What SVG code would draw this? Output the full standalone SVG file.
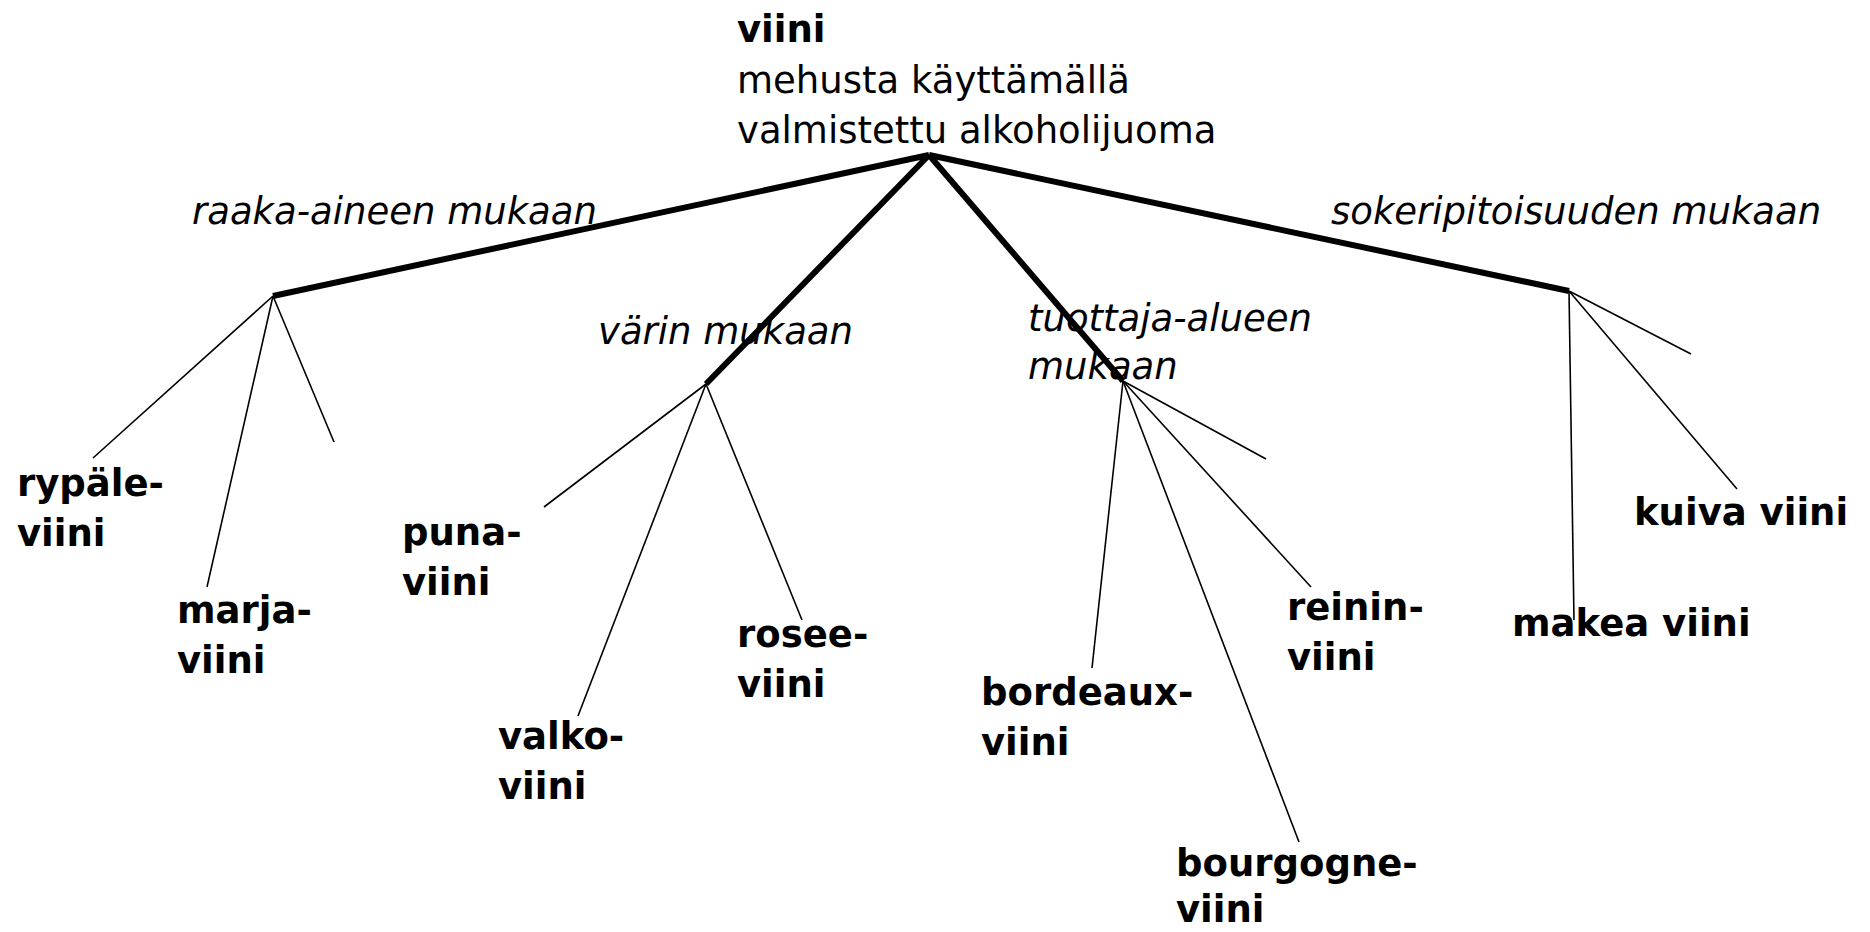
<svg xmlns="http://www.w3.org/2000/svg" width="1870" height="932" viewBox="0 0 1870 932">
<style>
text{font-family:"DejaVu Sans","Verdana",sans-serif;fill:#000}
.root{font-size:37px}
.b{font-size:37px;font-weight:bold}
.it{font-size:37px;font-style:italic}
.thick{stroke:#000;stroke-width:6;fill:none;stroke-linecap:butt}
.thin{stroke:#000;stroke-width:1.6;fill:none}
</style>
<rect width="1870" height="932" fill="#fff"/>
<g id="connectors">
<line class="thick" x1="929" y1="155" x2="273" y2="296"/>
<line class="thick" x1="929" y1="155" x2="706" y2="384"/>
<line class="thick" x1="929" y1="155" x2="1123" y2="381"/>
<line class="thick" x1="929" y1="155" x2="1569" y2="291"/>
<line class="thin" x1="273" y1="296" x2="93" y2="458"/>
<line class="thin" x1="273" y1="296" x2="207" y2="587"/>
<line class="thin" x1="273" y1="296" x2="334" y2="442"/>
<line class="thin" x1="706" y1="384" x2="544" y2="507"/>
<line class="thin" x1="706" y1="384" x2="578" y2="716"/>
<line class="thin" x1="706" y1="384" x2="802" y2="620"/>
<line class="thin" x1="1123" y1="381" x2="1092" y2="668"/>
<line class="thin" x1="1123" y1="381" x2="1299" y2="842"/>
<line class="thin" x1="1123" y1="381" x2="1311" y2="587"/>
<line class="thin" x1="1123" y1="381" x2="1266" y2="459"/>
<line class="thin" x1="1569" y1="291" x2="1574" y2="620"/>
<line class="thin" x1="1569" y1="291" x2="1737" y2="489"/>
<line class="thin" x1="1569" y1="291" x2="1691" y2="354"/>
</g>
<g id="viini">
<text class="b" x="737" y="42">viini</text>
<text class="root" x="737" y="93">mehusta käyttämällä</text>
<text class="root" x="737" y="143">valmistettu alkoholijuoma</text>
</g>
<g id="raaka-aineen"><text class="it" x="192" y="224">raaka-aineen mukaan</text></g>
<g id="varin"><text class="it" x="598" y="344">värin mukaan</text></g>
<g id="tuottaja"><text class="it" x="1028" y="331">tuottaja-alueen</text><text class="it" x="1028" y="379">mukaan</text></g>
<g id="sokeri"><text class="it" x="1331" y="224">sokeripitoisuuden mukaan</text></g>
<g id="rypale"><text class="b" x="17" y="496">rypäle-</text><text class="b" x="17" y="546">viini</text></g>
<g id="marja"><text class="b" x="177" y="623">marja-</text><text class="b" x="177" y="673">viini</text></g>
<g id="puna"><text class="b" x="402" y="545">puna-</text><text class="b" x="402" y="595">viini</text></g>
<g id="valko"><text class="b" x="498" y="749">valko-</text><text class="b" x="498" y="799">viini</text></g>
<g id="rosee"><text class="b" x="737" y="647">rosee-</text><text class="b" x="737" y="697">viini</text></g>
<g id="bordeaux"><text class="b" x="981" y="705">bordeaux-</text><text class="b" x="981" y="755">viini</text></g>
<g id="bourgogne"><text class="b" x="1176" y="876">bourgogne-</text><text class="b" x="1176" y="922">viini</text></g>
<g id="reinin"><text class="b" x="1287" y="620">reinin-</text><text class="b" x="1287" y="670">viini</text></g>
<g id="makea"><text class="b" x="1512" y="636">makea viini</text></g>
<g id="kuiva"><text class="b" x="1634" y="525">kuiva viini</text></g>
</svg>
